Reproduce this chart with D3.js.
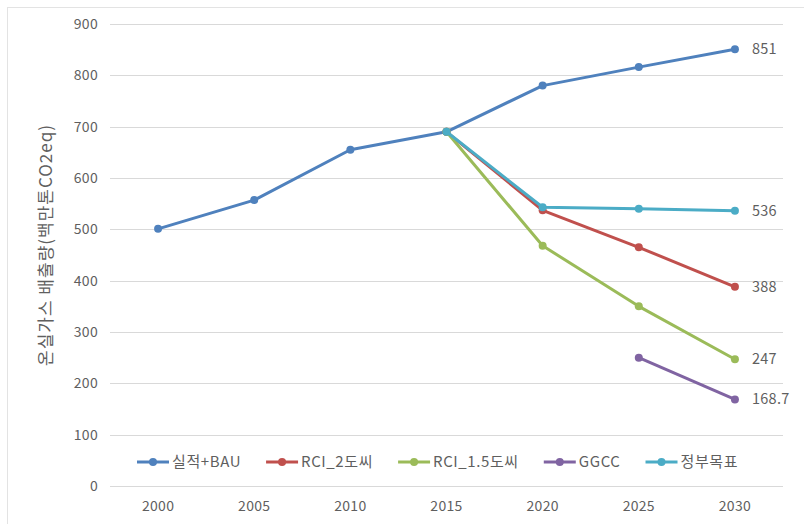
<!DOCTYPE html>
<html>
<head>
    <meta charset="utf-8">
    <title>온실가스 배출량</title>
    <style>
        body { margin: 0; background: #fff; }
        svg text { font-family: "Noto Sans CJK KR", "Noto Sans", sans-serif; fill: #5f5f5f; }
    </style>
</head>
<body>
    <div id="chart"></div>

    <script src="https://cdn.jsdelivr.net/npm/d3@7"></script>
    <script>
        const width = 804;
        const height = 524;

        // Data
        const years = ["2000", "2005", "2010", "2015", "2020", "2025", "2030"];
        const yTicks = [0, 100, 200, 300, 400, 500, 600, 700, 800, 900];
        const bau = [501, 557, 655, 690, 780, 816, 851];
        const rci2 = [null, null, null, 690, 537, 465, 388];
        const rci15 = [null, null, null, 690, 468, 350, 247];
        const ggcc = [null, null, null, null, null, 250, 168.7];
        const govTarget = [null, null, null, 690, 543, 540, 536];
        const endLabels = ["851", "388", "247", "168.7", "536"];

        const series = [
            { name: "실적+BAU", values: bau, color: "#4f81bd" },
            { name: "RCI_2도씨", values: rci2, color: "#c0504d" },
            { name: "RCI_1.5도씨", values: rci15, color: "#9bbb59" },
            { name: "GGCC", values: ggcc, color: "#8064a2" },
            { name: "정부목표", values: govTarget, color: "#4bacc6" }
        ];

        const svg = d3.select("#chart")
            .append("svg")
            .attr("width", width)
            .attr("height", height);

        // Chart frame
        svg.append("rect")
            .attr("x", 7.5).attr("y", 7.5)
            .attr("width", width).attr("height", height)
            .attr("fill", "none")
            .attr("stroke", "#e3e3e3");

        const x = d3.scalePoint()
            .domain(years)
            .range([110, 783])
            .padding(0.5);

        const y = d3.scaleLinear()
            .domain([0, 900])
            .range([486, 24]);

        // Gridlines
        svg.append("g")
            .selectAll("line")
            .data(yTicks)
            .join("line")
            .attr("x1", 110).attr("x2", 783)
            .attr("y1", d => Math.round(y(d)) + 0.5)
            .attr("y2", d => Math.round(y(d)) + 0.5)
            .attr("stroke", "#d9d9d9");

        // Y axis labels
        svg.append("g")
            .selectAll("text")
            .data(yTicks)
            .join("text")
            .attr("x", 98)
            .attr("y", d => y(d))
            .attr("dy", "0.35em")
            .attr("text-anchor", "end")
            .style("font-size", "14px")
            .style("letter-spacing", "0.3px")
            .text(d => d);

        // X axis labels
        svg.append("g")
            .selectAll("text")
            .data(years)
            .join("text")
            .attr("x", d => x(d))
            .attr("y", 506)
            .attr("dy", "0.35em")
            .attr("text-anchor", "middle")
            .style("font-size", "14px")
            .style("letter-spacing", "0.3px")
            .text(d => d);

        // Y axis title
        svg.append("text")
            .attr("transform", "translate(46,245) rotate(-90)")
            .attr("text-anchor", "middle")
            .attr("dy", "0.35em")
            .style("font-size", "17px")
            .style("letter-spacing", "1px")
            .text("온실가스 배출량(백만톤CO2eq)");

        const line = d3.line()
            .defined(d => d != null)
            .x((d, i) => x(years[i]))
            .y(d => y(d));

        series.forEach(s => {
            svg.append("path")
                .datum(s.values)
                .attr("fill", "none")
                .attr("stroke", s.color)
                .attr("stroke-width", 3)
                .attr("stroke-linejoin", "round")
                .attr("d", line);

            svg.append("g")
                .selectAll("circle")
                .data(s.values.map((v, i) => ({ v, i })).filter(d => d.v != null))
                .join("circle")
                .attr("cx", d => x(years[d.i]))
                .attr("cy", d => y(d.v))
                .attr("r", 4)
                .attr("fill", s.color);
        });

        // End labels
        svg.append("g")
            .selectAll("text")
            .data(series)
            .join("text")
            .attr("x", x("2030") + 17)
            .attr("y", d => y(d.values[d.values.length - 1]))
            .attr("dy", "0.35em")
            .style("font-size", "14.5px")
            .style("letter-spacing", "0.3px")
            .text((d, i) => endLabels[i]);

        // Legend
        const legend = svg.append("g");
        let lx = 137;
        const ly = 462;
        series.forEach(s => {
            const item = legend.append("g").attr("transform", `translate(${lx},${ly})`);
            item.append("line")
                .attr("x1", 0).attr("x2", 32)
                .attr("stroke", s.color)
                .attr("stroke-width", 3);
            item.append("circle")
                .attr("cx", 16).attr("r", 4)
                .attr("fill", s.color);
            const t = item.append("text")
                .attr("x", 35)
                .attr("dy", "0.35em")
                .style("font-size", "15px")
                .style("letter-spacing", "0.6px")
                .text(s.name);
            lx += 35 + t.node().getComputedTextLength() + 25;
        });
    </script>
</body>
</html>
